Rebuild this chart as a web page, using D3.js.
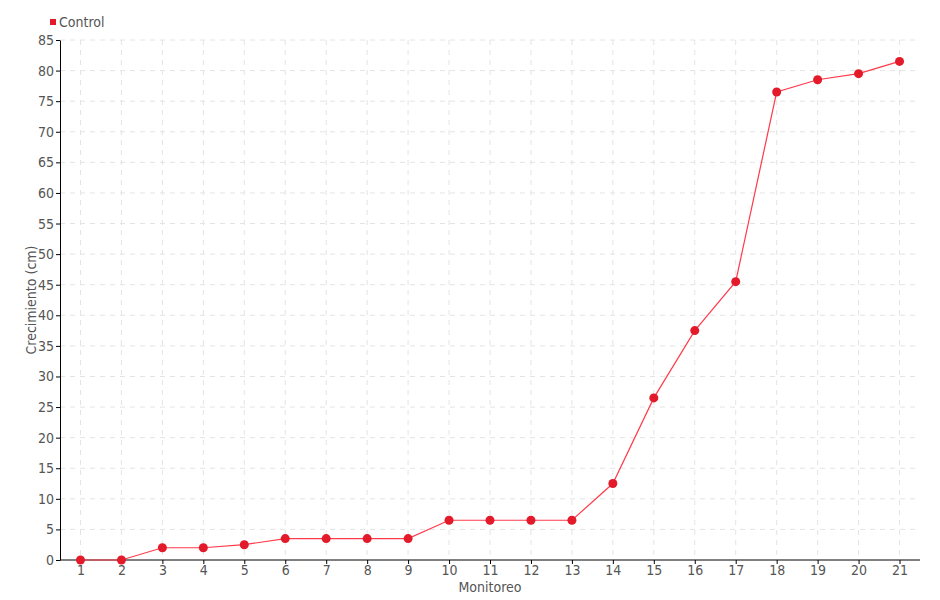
<!DOCTYPE html>
<html>
<head>
<meta charset="utf-8">
<script src="https://cdn.jsdelivr.net/npm/d3@7"></script>
<style>
    body { margin: 0; background: #fff; }
    text { font-family: "DejaVu Sans Condensed", "DejaVu Sans", sans-serif; font-stretch: condensed; fill: #555; }
</style>
</head>
<body>
<svg id="chart" width="940" height="600"></svg>
<script>
const monitoreo = ["1","2","3","4","5","6","7","8","9","10","11","12","13","14","15","16","17","18","19","20","21"];
const control = [0, 0, 2, 2, 2.5, 3.5, 3.5, 3.5, 3.5, 6.5, 6.5, 6.5, 6.5, 12.5, 26.5, 37.5, 45.5, 76.5, 78.5, 79.5, 81.5];
const yTicks = d3.range(0, 90, 5);
const seriesName = "Control";

const svg = d3.select("#chart");
const margin = { left: 60, right: 20, top: 40, bottom: 40 };
const width = 940, height = 600;

const xScale = d3.scalePoint()
    .domain(monitoreo)
    .range([margin.left, width - margin.right])
    .padding(0.5);
const yScale = d3.scaleLinear()
    .domain([0, 85])
    .range([height - margin.bottom, margin.top]);

// Grid
const grid = svg.append("g");
grid.selectAll(".hgrid").data(yTicks.slice(1)).enter().append("line")
    .attr("x1", margin.left).attr("x2", width - margin.right)
    .attr("y1", d => yScale(d)).attr("y2", d => yScale(d))
    .attr("stroke", "#e4e4e4").attr("stroke-dasharray", "5,5");
grid.selectAll(".vgrid").data(monitoreo).enter().append("line")
    .attr("x1", d => xScale(d)).attr("x2", d => xScale(d))
    .attr("y1", margin.top).attr("y2", height - margin.bottom)
    .attr("stroke", "#e4e4e4").attr("stroke-dasharray", "5,5");

// Axes
const xAxis = d3.axisBottom(xScale).tickSizeInner(4).tickSizeOuter(0).tickPadding(1);
const yAxis = d3.axisLeft(yScale).tickValues(yTicks).tickSizeInner(4).tickSizeOuter(0).tickPadding(2);
const gx = svg.append("g")
    .attr("transform", `translate(0,${height - margin.bottom})`)
    .call(xAxis);
gx.select(".domain").attr("d", `M${margin.left},0H${width - margin.right}`).attr("stroke", "#000");
const gy = svg.append("g")
    .attr("transform", `translate(${margin.left},0)`)
    .call(yAxis);
gy.select(".domain").attr("stroke", "#000");
svg.selectAll(".tick line").attr("stroke", "#000");
svg.selectAll(".tick text").style("font-size", "14px").attr("fill", "#555");

// Axis titles
svg.append("text")
    .attr("x", (margin.left + width - margin.right) / 2)
    .attr("y", 592)
    .attr("text-anchor", "middle")
    .style("font-size", "14px")
    .text("Monitoreo");
svg.append("text")
    .attr("transform", `translate(36,${(margin.top + height - margin.bottom) / 2}) rotate(-90)`)
    .attr("text-anchor", "middle")
    .style("font-size", "14px")
    .text("Crecimiento (cm)");

// Line + points
const line = d3.line()
    .x((d, i) => xScale(monitoreo[i]))
    .y(d => yScale(d));
svg.append("path")
    .datum(control)
    .attr("d", line)
    .attr("fill", "none")
    .attr("stroke", "#ff3b4b")
    .attr("stroke-width", 1.2);
svg.selectAll(".pt").data(control).enter().append("circle")
    .attr("cx", (d, i) => xScale(monitoreo[i]))
    .attr("cy", d => yScale(d))
    .attr("r", 4.5)
    .attr("fill", "#e31a2a");

// Legend
svg.append("rect")
    .attr("x", 50).attr("y", 19).attr("width", 6).attr("height", 6)
    .attr("fill", "#e31a2a");
svg.append("text")
    .attr("x", 59).attr("y", 27)
    .style("font-size", "14px")
    .text(seriesName);
</script>
</body>
</html>
